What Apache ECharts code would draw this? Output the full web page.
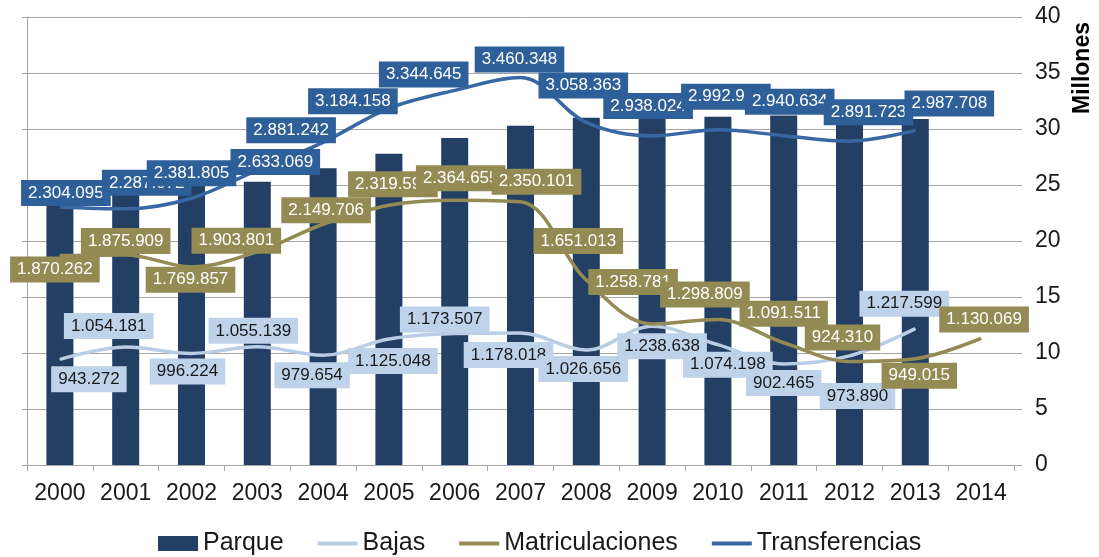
<!DOCTYPE html>
<html>
<head>
<meta charset="utf-8">
<script src="https://cdn.jsdelivr.net/npm/echarts@6/dist/echarts.min.js"></script>
<style>
  html, body { margin: 0; padding: 0; background: #ffffff; }
  #chart { width: 1099px; height: 557px; }
</style>
</head>
<body>
<div id="chart"></div>
<script>
// Years on the category axis
const years = ['2000', '2001', '2002', '2003', '2004', '2005', '2006', '2007',
               '2008', '2009', '2010', '2011', '2012', '2013', '2014'];

// Vehicle fleet (millions)
const parque = [23.4, 24.1, 25.1, 25.3, 26.5, 27.8, 29.2, 30.3, 31.0, 30.9, 31.1, 31.2, 31.0, 30.9, null];

// Yearly counts
const bajas = [943272, 1054181, 996224, 1055139, 979654, 1125048, 1173507, 1178018,
               1026656, 1238638, 1074198, 902465, 973890, 1217599, null];
const matriculaciones = [1870262, 1875909, 1769857, 1903801, 2149706, 2319595, 2364655, 2350101,
                         1651013, 1258781, 1298809, 1091511, 924310, 949015, 1130069];
const transferencias = [2304095, 2287072, 2381805, 2633069, 2881242, 3184158, 3344645, 3460348,
                        3058363, 2938024, 2992950, 2940634, 2891723, 2987708, null];

// Right axis tick values (millions)
const axisTicks = [0, 5, 10, 15, 20, 25, 30, 35, 40];

// Label placement relative to each point, in pixels
const bajasShift = [[29, 20], [-17, -21], [-4, 18], [-4, -16], [-11, 20], [4, 22], [-10, -14],
                    [-12, 22], [-3, 19], [10, 20], [10, 20], [0, 19], [8, 40], [-11, -25]];
const matricShift = [[-5, 14], [0, -14], [-1, 13], [-21, -11], [3, -14], [4, -21], [6, -22],
                     [16, -20], [-8, -39], [-19, -42], [-13, -25], [0, -29], [-7, -24], [4, 17], [3, -19]];
const transShift = [[6, -14], [21, -26], [0, -25], [18, -8], [-32, -12], [-36, -7], [-31, -16],
                    [-1, -18], [-3, -37], [-4, -30], [8, -33], [6, -34], [19, -29], [34, -27]];

const FONT = 'Liberation Sans, Arial, Helvetica, sans-serif';
const LINE_ICON = 'path://M0,0H40V4H0Z';

function fmt(v) {
  return String(Math.round(v)).replace(/\B(?=(\d{3})+(?!\d))/g, '.');
}

function withLabels(values, shifts) {
  return values.map(function (v, i) {
    if (v == null) return null;
    return { value: v, label: { offset: shifts[i] } };
  });
}

function lineSeries(name, values, shifts, lineColor, boxColor, textColor) {
  return {
    name: name,
    type: 'line',
    yAxisIndex: 1,
    data: withLabels(values, shifts),
    smooth: 0.35,
    symbol: 'circle',
    symbolSize: 1,
    showSymbol: true,
    connectNulls: false,
    itemStyle: { color: lineColor },
    lineStyle: { color: lineColor, width: 3.5 },
    label: {
      show: true,
      position: 'inside',
      formatter: function (p) { return fmt(p.value); },
      color: textColor,
      backgroundColor: boxColor,
      fontFamily: FONT,
      fontSize: 17,
      lineHeight: 20,
      padding: [3, 7, 3, 7]
    },
    emphasis: { disabled: true },
    z: 3
  };
}

const chart = echarts.init(document.getElementById('chart'), null, { renderer: 'canvas' });

chart.setOption({
  animation: false,
  backgroundColor: '#ffffff',
  textStyle: { fontFamily: FONT },
  grid: { left: 27, right: 85, top: 17, bottom: 92, containLabel: false },
  legend: {
    top: 526,
    left: 153,
    itemWidth: 40,
    itemHeight: 15,
    itemGap: 34,
    symbolKeepAspect: true,
    textStyle: { fontFamily: FONT, fontSize: 25, color: '#1a1a1a' },
    data: [
      { name: 'Parque', icon: 'rect' },
      { name: 'Bajas', icon: LINE_ICON },
      { name: 'Matriculaciones', icon: LINE_ICON },
      { name: 'Transferencias', icon: LINE_ICON }
    ]
  },
  xAxis: {
    type: 'category',
    data: years,
    boundaryGap: true,
    axisLine: { show: true, lineStyle: { color: '#a6a6a6', width: 1 } },
    axisTick: { show: true, alignWithLabel: false, interval: 0, length: 6, lineStyle: { color: '#a6a6a6' } },
    axisLabel: { interval: 0, color: '#1a1a1a', fontSize: 23, fontFamily: FONT, margin: 17 },
    splitLine: { show: false }
  },
  yAxis: [
    {
      type: 'value',
      position: 'right',
      min: 0,
      max: 40,
      interval: 5,
      axisLine: { show: false },
      axisTick: { show: true, length: 8, lineStyle: { color: '#a6a6a6' } },
      axisLabel: {
        color: '#1a1a1a', fontSize: 23, fontFamily: FONT, margin: 21,
        formatter: function (v) { return axisTicks.indexOf(v) >= 0 ? String(v) : ''; }
      },
      splitLine: { show: true, lineStyle: { color: '#a6a6a6', width: 1 } }
    },
    {
      type: 'value',
      position: 'left',
      min: 0,
      max: 4000000,
      interval: 500000,
      axisLine: { show: true, lineStyle: { color: '#a6a6a6', width: 1 } },
      axisTick: { show: true, length: 5, lineStyle: { color: '#a6a6a6' } },
      axisLabel: { show: false },
      splitLine: { show: false }
    }
  ],
  graphic: [
    {
      type: 'text',
      x: 1083,
      y: 68,
      rotation: Math.PI / 2,
      style: {
        text: 'Millones',
        font: 'bold 23px ' + FONT,
        fill: '#000000',
        align: 'center',
        verticalAlign: 'middle'
      }
    }
  ],
  series: [
    {
      name: 'Parque',
      type: 'bar',
      yAxisIndex: 0,
      data: parque,
      barWidth: 27,
      itemStyle: { color: '#243f64' },
      emphasis: { disabled: true },
      z: 2
    },
    lineSeries('Bajas', bajas, bajasShift, '#b9cde5', '#bed2ea', '#1a1a1a'),
    lineSeries('Matriculaciones', matriculaciones, matricShift, '#948a54', '#948a54', '#ffffff'),
    lineSeries('Transferencias', transferencias, transShift, '#3868a4', '#2f5f98', '#ffffff')
  ]
});
</script>
</body>
</html>
